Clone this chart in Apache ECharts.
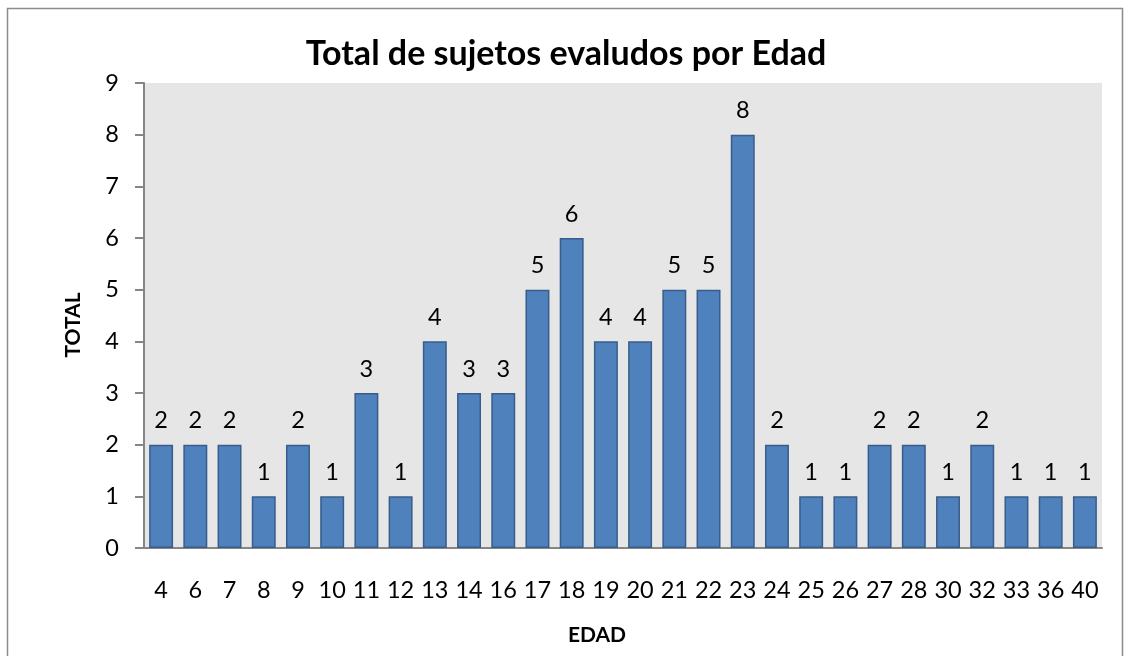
<!DOCTYPE html>
<html><head><meta charset="utf-8">
<script src="https://cdn.jsdelivr.net/npm/echarts@6/dist/echarts.min.js"></script>
<style>html,body{margin:0;padding:0;background:#fff}#c{width:1132px;height:656px}</style>
</head><body><div id="c"></div>
<script>
const categories = ['4','6','7','8','9','10','11','12','13','14','16','17','18','19','20','21','22','23','24','25','26','27','28','30','32','33','36','40'];
const totals = [2,2,2,1,2,1,3,1,4,3,3,5,6,4,4,5,5,8,2,1,1,2,2,1,2,1,1,1];
const yTicks = [0,1,2,3,4,5,6,7,8,9];
const FONT = 'Lato, "Open Sans", sans-serif';
const chart = echarts.init(document.getElementById('c'));
chart.setOption({
  animation: false,
  backgroundColor: '#fff',
  graphic: [
    {type:'rect', shape:{x:7.5,y:8.5,width:1115,height:660}, style:{fill:'none',stroke:'#8c8c8c',lineWidth:1.5}, silent:true},
    {type:'text', x:73, y:325, rotation:Math.PI/2, style:{text:'TOTAL', fontFamily:FONT, fontSize:21, fontWeight:'bold', fill:'#000', align:'center', verticalAlign:'middle'}, silent:true},
    {type:'text', x:597, y:635, style:{text:'EDAD', fontFamily:FONT, fontSize:21, fontWeight:'bold', fill:'#000', align:'center', verticalAlign:'middle'}, silent:true}
  ],
  title: [
    {text:'Total de sujetos evaludos por Edad', left:'center', top:32, textStyle:{fontFamily:FONT,fontSize:34,fontWeight:'bold',color:'#000'}}
  ],
  grid: {left:144, right:30, top:83, bottom:108, show:true, backgroundColor:'#e6e6e6', borderWidth:0},
  xAxis: {type:'category', data:categories,
    axisLine:{lineStyle:{color:'#868686',width:2}}, axisTick:{show:false},
    axisLabel:{fontFamily:FONT,fontSize:23.5,color:'#000',margin:30,interval:0}},
  yAxis: {type:'value', min:0, max:9, interval:1,
    axisLine:{show:true,lineStyle:{color:'#868686',width:2}},
    axisTick:{show:true,length:9,lineStyle:{color:'#868686',width:2}},
    splitLine:{show:false},
    axisLabel:{fontFamily:FONT,fontSize:23.5,color:'#000',margin:25,
      formatter:v=>yTicks.includes(v)?String(v):''}},
  series: [{type:'bar', data:totals, barCategoryGap:'30%',
    itemStyle:{color:'#4f81bd',borderColor:'#385d8a',borderWidth:1.5},
    label:{show:true,position:'top',distance:12,fontFamily:FONT,fontSize:23.5,color:'#000'}}]
});
</script></body></html>
